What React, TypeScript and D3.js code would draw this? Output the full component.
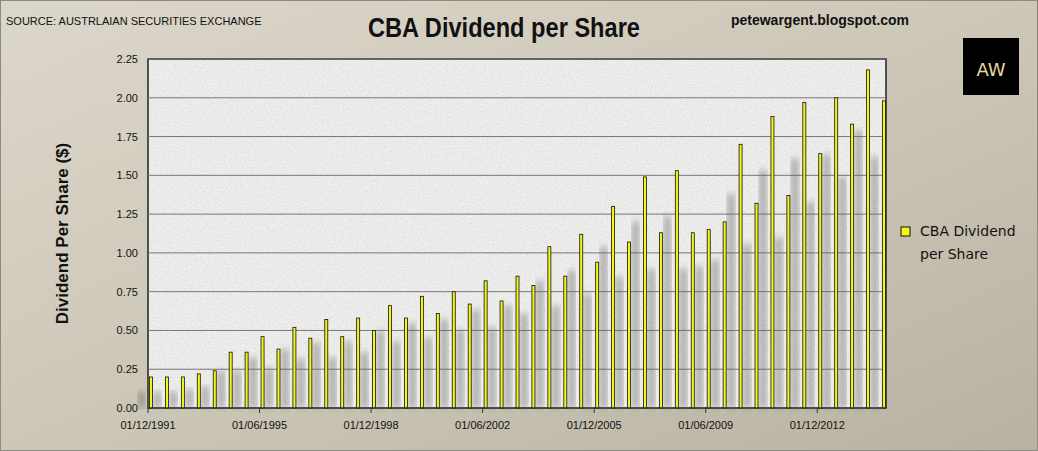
import React from "react";
import * as d3 from "d3";

const values = [0.20,0.20,0.20,0.22,0.24,0.36,0.36,0.46,0.38,0.52,0.45,0.57,0.46,0.58,0.50,0.66,0.58,0.72,0.61,0.75,0.67,0.82,0.69,0.85,0.79,1.04,0.85,1.12,0.94,1.30,1.07,1.49,1.13,1.53,1.13,1.15,1.20,1.70,1.32,1.88,1.37,1.97,1.64,2.00,1.83,2.18,1.98];
const xTickLabels = ["01/12/1991","01/06/1995","01/12/1998","01/06/2002","01/12/2005","01/06/2009","01/12/2012"];
const yTicks = [0,0.25,0.5,0.75,1,1.25,1.5,1.75,2,2.25];

export default function App() {
  const L = 148, R = 886, T = 59, B = 408;
  const x = d3.scaleLinear().domain([0, values.length - 1]).range([151, 884]);
  const y = d3.scaleLinear().domain([0, 2.25]).range([B, T]);
  return (
    <svg width={1038} height={451} style={{ position: "absolute", left: 0, top: 0 }}>
      <defs>
        <linearGradient id="bg" x1="0" y1="0" x2="1" y2="1">
          <stop offset="0" stopColor="#dcd7cb" />
          <stop offset="0.5" stopColor="#cdc7b8" />
          <stop offset="1" stopColor="#b9b2a1" />
        </linearGradient>
        <filter id="noise" x="0" y="0" width="100%" height="100%">
          <feTurbulence type="fractalNoise" baseFrequency="0.7" numOctaves="2" seed="3" />
          <feColorMatrix type="matrix" values="0 0 0 0 0.5  0 0 0 0 0.5  0 0 0 0 0.5  0 0 0 -2 1.1" />
        </filter>
        <filter id="blur"><feGaussianBlur stdDeviation="3" /></filter>
      </defs>
      <rect x={0} y={0} width={1038} height={451} fill="url(#bg)" />
      <rect x={0.5} y={0.5} width={1037} height={450} fill="none" stroke="#8f8a7e" />
      <rect x={L} y={T} width={R - L} height={B - T} fill="#eeeeec" />
      <rect x={L} y={T} width={R - L} height={B - T} filter="url(#noise)" opacity={0.45} />
      <rect x={L} y={T} width={R - L} height={B - T} fill="none" stroke="#222" strokeWidth={1.5} />
      {yTicks.map(t => (
        <g key={t}>
          <line x1={L} x2={R} y1={y(t)} y2={y(t)} stroke="#777" strokeWidth={1} />
          <text x={L - 10} y={y(t) + 4} textAnchor="end" fontFamily="Liberation Sans, Arial" fontSize={11} fill="#111">{t.toFixed(2)}</text>
        </g>
      ))}
      {values.map((v, i) => (
        <rect key={"s" + i} x={x(i) - 13} y={y(v * 0.85) + 10} width={7} height={B - y(v * 0.85) - 10} fill="#666" opacity={0.5} filter="url(#blur)" />
      ))}
      {values.map((v, i) => (
        <rect key={i} x={x(i) - 1.5} y={y(v)} width={3} height={B - y(v)} fill="#f5f51a" stroke="#111" strokeWidth={0.8} />
      ))}
      <line x1={L} x2={R} y1={B} y2={B} stroke="#333" />
      {xTickLabels.map((lab, k) => {
        const xi = x(k * 7) - 3;
        return (
          <g key={lab}>
            <line x1={xi} x2={xi} y1={B} y2={B + 5} stroke="#333" />
            <text x={xi} y={B + 21} textAnchor="middle" fontFamily="Liberation Sans, Arial" fontSize={11} fill="#111">{lab}</text>
          </g>
        );
      })}
      <text x={6} y={25} fontFamily="Liberation Sans, Arial" fontSize={11} fill="#111">SOURCE: AUSTRLAIAN SECURITIES EXCHANGE</text>
      <text x={368} y={37} textLength={272} lengthAdjust="spacingAndGlyphs" fontFamily="Liberation Sans, Arial" fontWeight="bold" fontSize={27} fill="#111">CBA Dividend per Share</text>
      <text x={820} y={25} textAnchor="middle" fontFamily="Liberation Sans, Arial" fontWeight="bold" fontSize={14} fill="#111">petewargent.blogspot.com</text>
      <rect x={963} y={38} width={56} height={57} fill="#000" />
      <text x={991} y={76} textAnchor="middle" fontFamily="DejaVu Sans" fontSize={18} fill="#e8d8a0">AW</text>
      <text transform={`translate(68,${(T + B) / 2}) rotate(-90)`} textAnchor="middle" fontFamily="Liberation Sans, Arial" fontWeight="bold" fontSize={17} fill="#111">Dividend Per Share ($)</text>
      <rect x={901} y={227} width={9} height={9} fill="#f5f51a" stroke="#111" />
      <text x={920} y={236} fontFamily="DejaVu Sans" fontSize={14} fill="#111">CBA Dividend</text>
      <text x={920} y={259} fontFamily="DejaVu Sans" fontSize={14} fill="#111">per Share</text>
    </svg>
  );
}
